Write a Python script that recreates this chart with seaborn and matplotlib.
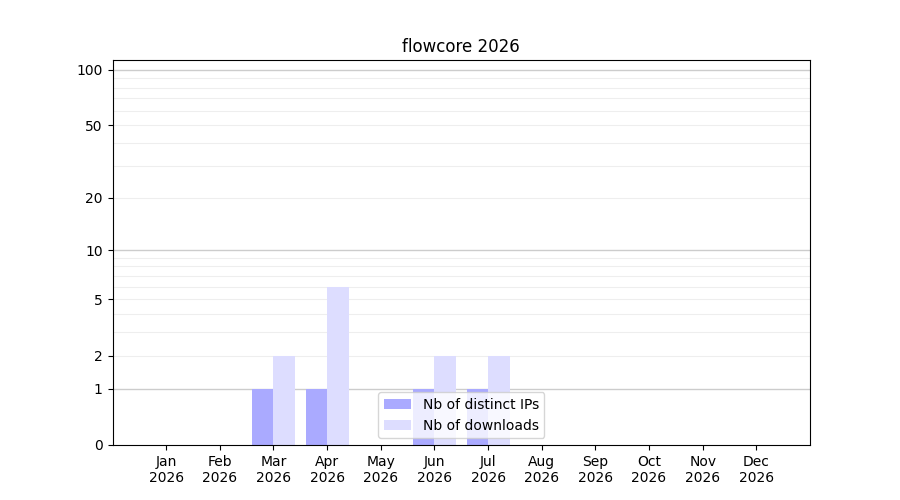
import numpy as np
import pandas as pd
import seaborn as sns
import matplotlib
matplotlib.use("Agg")
import matplotlib.pyplot as plt

months = ["Jan", "Feb", "Mar", "Apr", "May", "Jun",
          "Jul", "Aug", "Sep", "Oct", "Nov", "Dec"]
year = "2026"
distinct_ips = [0, 0, 1, 1, 0, 1, 1, 0, 0, 0, 0, 0]
downloads = [0, 0, 2, 6, 0, 2, 2, 0, 0, 0, 0, 0]

ytick_values = [0, 1, 2, 5, 10, 20, 50, 100]
major_grid = [1, 10, 100]
minor_grid = [2, 3, 4, 5, 6, 7, 8, 9, 20, 30, 40, 50, 60, 70, 80, 90]

labels = [m + "\n" + year for m in months]
df = pd.DataFrame({
    "month": labels * 2,
    "value": distinct_ips + downloads,
    "series": ["Nb of distinct IPs"] * 12 + ["Nb of downloads"] * 12,
})


def fwd(y):
    return np.log10(np.asarray(y, dtype=float) + 1)


def inv(y):
    return 10 ** np.asarray(y, dtype=float) - 1


fig, ax = plt.subplots(figsize=(9, 5), dpi=100)
sns.barplot(data=df, x="month", y="value", hue="series", order=labels,
            palette=["#aaaaff", "#ddddff"], errorbar=None, width=0.8,
            saturation=1, ax=ax)

ax.set_yscale("function", functions=(fwd, inv))
ax.set_ylim(0, 113)
ax.set_xlim(-1, 12)
ax.set_yticks(ytick_values)
ax.set_yticklabels([str(v) for v in ytick_values])
ax.yaxis.set_minor_locator(matplotlib.ticker.NullLocator())

for v in major_grid:
    ax.axhline(v, color="#cccccc", lw=1, zorder=0)
for v in minor_grid:
    ax.axhline(v, color="#eeeeee", lw=0.8, zorder=0)

ax.set_xlabel("")
ax.set_ylabel("")
ax.set_title("flowcore 2026")
ax.legend(loc="lower center", title=None)

fig.subplots_adjust(left=0.125, right=0.9, top=0.88, bottom=0.11)
fig.savefig("out.png")
